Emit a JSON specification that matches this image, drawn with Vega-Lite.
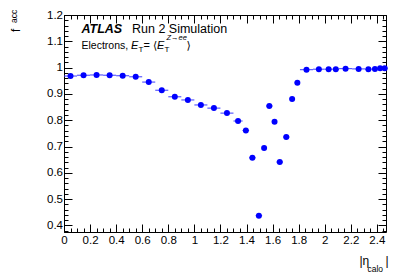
{
  "$schema": "https://vega.github.io/schema/vega-lite/v6.json",
  "width": 322,
  "height": 217,
  "autosize": {"type": "none"},
  "padding": {"left": 64, "top": 15, "right": 21, "bottom": 45},
  "background": "white",
  "config": {
    "view": {"stroke": null},
    "axis": {"labelFont": "Liberation Sans", "titleFont": "Liberation Sans", "grid": false, "labelColor": "black", "titleColor": "black", "domainColor": "black", "tickColor": "black", "domainWidth": 1, "tickWidth": 1, "labelFlush": false, "labelOverlap": false, "titleFontWeight": "normal", "titleFontSize": 12, "labelFontSize": 11.5},
    "text": {"font": "Liberation Sans", "color": "black", "align": "left", "baseline": "alphabetic"}
  },
  "datasets": {
    "eff": [
      {"eta": 0.05, "lo": 0.0, "hi": 0.1, "f": 0.968},
      {"eta": 0.15, "lo": 0.1, "hi": 0.2, "f": 0.971},
      {"eta": 0.25, "lo": 0.2, "hi": 0.3, "f": 0.972},
      {"eta": 0.35, "lo": 0.3, "hi": 0.4, "f": 0.971},
      {"eta": 0.45, "lo": 0.4, "hi": 0.5, "f": 0.969},
      {"eta": 0.55, "lo": 0.5, "hi": 0.6, "f": 0.965},
      {"eta": 0.65, "lo": 0.6, "hi": 0.7, "f": 0.945},
      {"eta": 0.75, "lo": 0.7, "hi": 0.8, "f": 0.914},
      {"eta": 0.85, "lo": 0.8, "hi": 0.9, "f": 0.889},
      {"eta": 0.95, "lo": 0.9, "hi": 1.0, "f": 0.877},
      {"eta": 1.05, "lo": 1.0, "hi": 1.1, "f": 0.858},
      {"eta": 1.15, "lo": 1.1, "hi": 1.2, "f": 0.846},
      {"eta": 1.25, "lo": 1.2, "hi": 1.3, "f": 0.827},
      {"eta": 1.335, "lo": 1.3, "hi": 1.37, "f": 0.797},
      {"eta": 1.395, "lo": 1.37, "hi": 1.42, "f": 0.761},
      {"eta": 1.445, "lo": 1.42, "hi": 1.47, "f": 0.657},
      {"eta": 1.495, "lo": 1.47, "hi": 1.52, "f": 0.437},
      {"eta": 1.535, "lo": 1.52, "hi": 1.55, "f": 0.694},
      {"eta": 1.575, "lo": 1.55, "hi": 1.6, "f": 0.854},
      {"eta": 1.615, "lo": 1.6, "hi": 1.63, "f": 0.794},
      {"eta": 1.655, "lo": 1.63, "hi": 1.68, "f": 0.641},
      {"eta": 1.705, "lo": 1.68, "hi": 1.73, "f": 0.736},
      {"eta": 1.75, "lo": 1.73, "hi": 1.77, "f": 0.881},
      {"eta": 1.79, "lo": 1.77, "hi": 1.81, "f": 0.942},
      {"eta": 1.86, "lo": 1.81, "hi": 1.91, "f": 0.992},
      {"eta": 1.955, "lo": 1.91, "hi": 2.0, "f": 0.994},
      {"eta": 2.03, "lo": 2.0, "hi": 2.06, "f": 0.994},
      {"eta": 2.085, "lo": 2.06, "hi": 2.11, "f": 0.994},
      {"eta": 2.16, "lo": 2.11, "hi": 2.21, "f": 0.996},
      {"eta": 2.26, "lo": 2.21, "hi": 2.31, "f": 0.995},
      {"eta": 2.335, "lo": 2.31, "hi": 2.36, "f": 0.994},
      {"eta": 2.385, "lo": 2.36, "hi": 2.41, "f": 0.995},
      {"eta": 2.425, "lo": 2.41, "hi": 2.44, "f": 0.998},
      {"eta": 2.46, "lo": 2.44, "hi": 2.47, "f": 0.998}
    ],
    "one": [{}]
  },
  "resolve": {"axis": {"x": "independent", "y": "independent"}},
  "layer": [
    {
      "data": {"name": "eff"},
      "mark": {"type": "rule", "color": "#3a3aff", "strokeWidth": 1},
      "encoding": {
        "x": {"field": "lo", "type": "quantitative", "scale": {"domain": [0, 2.47], "nice": false, "zero": false},
          "axis": {"orient": "bottom", "values": [0, 0.2, 0.4, 0.6, 0.8, 1, 1.2, 1.4, 1.6, 1.8, 2, 2.2, 2.4], "format": "~g", "tickSize": -8, "labelPadding": 10, "domain": true,
            "title": "|η", "titleX": 295, "titleY": 32, "titleAlign": "left", "titleBaseline": "alphabetic", "titleAngle": 0}},
        "x2": {"field": "hi"},
        "y": {"field": "f", "type": "quantitative", "scale": {"domain": [0.375, 1.2], "nice": false, "zero": false},
          "axis": {"orient": "left", "values": [0.4, 0.5, 0.6, 0.7, 0.8, 0.9, 1, 1.1, 1.2], "format": "~g", "tickSize": -8, "labelPadding": 9.5, "domain": true, "title": null}}
      }
    },
    {
      "data": {"name": "eff"},
      "mark": {"type": "point", "filled": true, "color": "#0000ff", "opacity": 1, "size": 36},
      "encoding": {
        "x": {"field": "eta", "type": "quantitative",
          "axis": {"orient": "bottom", "values": [0,0.05,0.1,0.15,0.2,0.25,0.3,0.35,0.4,0.45,0.5,0.55,0.6,0.65,0.7,0.75,0.8,0.85,0.9,0.95,1,1.05,1.1,1.15,1.2,1.25,1.3,1.35,1.4,1.45,1.5,1.55,1.6,1.65,1.7,1.75,1.8,1.85,1.9,1.95,2,2.05,2.1,2.15,2.2,2.25,2.3,2.35,2.4,2.45], "tickSize": -4, "labels": false, "domain": false,
            "title": "calo", "titleFontSize": 8.5, "titleX": 303, "titleY": 39, "titleAlign": "left", "titleBaseline": "alphabetic", "titleAngle": 0}},
        "y": {"field": "f", "type": "quantitative",
          "axis": {"orient": "left", "values": [0.38,0.4,0.42,0.44,0.46,0.48,0.5,0.52,0.54,0.56,0.58,0.6,0.62,0.64,0.66,0.68,0.7,0.72,0.74,0.76,0.78,0.8,0.82,0.84,0.86,0.88,0.9,0.92,0.94,0.96,0.98,1,1.02,1.04,1.06,1.08,1.1,1.12,1.14,1.16,1.18,1.2], "tickSize": -4, "labels": false, "domain": false, "title": null}}
      }
    },
    {
      "data": {"name": "eff"},
      "mark": {"type": "point", "opacity": 0},
      "encoding": {
        "x": {"field": "eta", "type": "quantitative",
          "axis": {"orient": "top", "values": [0, 0.2, 0.4, 0.6, 0.8, 1, 1.2, 1.4, 1.6, 1.8, 2, 2.2, 2.4], "tickSize": -8, "labels": false, "domain": true,
            "title": "|", "titleX": 321, "titleY": 249, "titleAlign": "left", "titleBaseline": "alphabetic", "titleAngle": 0}},
        "y": {"field": "f", "type": "quantitative",
          "axis": {"orient": "right", "values": [0.4, 0.5, 0.6, 0.7, 0.8, 0.9, 1, 1.1, 1.2], "tickSize": -8, "labels": false, "domain": true, "title": null}}
      }
    },
    {
      "data": {"name": "eff"},
      "mark": {"type": "point", "opacity": 0},
      "encoding": {
        "x": {"field": "eta", "type": "quantitative",
          "axis": {"orient": "top", "values": [0,0.05,0.1,0.15,0.2,0.25,0.3,0.35,0.4,0.45,0.5,0.55,0.6,0.65,0.7,0.75,0.8,0.85,0.9,0.95,1,1.05,1.1,1.15,1.2,1.25,1.3,1.35,1.4,1.45,1.5,1.55,1.6,1.65,1.7,1.75,1.8,1.85,1.9,1.95,2,2.05,2.1,2.15,2.2,2.25,2.3,2.35,2.4,2.45], "tickSize": -4, "labels": false, "domain": false, "title": null}},
        "y": {"field": "f", "type": "quantitative",
          "axis": {"orient": "right", "values": [0.38,0.4,0.42,0.44,0.46,0.48,0.5,0.52,0.54,0.56,0.58,0.6,0.62,0.64,0.66,0.68,0.7,0.72,0.74,0.76,0.78,0.8,0.82,0.84,0.86,0.88,0.9,0.92,0.94,0.96,0.98,1,1.02,1.04,1.06,1.08,1.1,1.12,1.14,1.16,1.18,1.2], "tickSize": -4, "labels": false, "domain": false, "title": null}}
      }
    },
    {
      "data": {"name": "one"},
      "mark": {"type": "text", "text": "f", "fontSize": 12, "angle": 270},
      "encoding": {"x": {"datum": -0.3375, "type": "quantitative", "axis": null}, "y": {"datum": 1.1354, "type": "quantitative", "axis": null}}
    },
    {
      "data": {"name": "one"},
      "mark": {"type": "text", "text": "acc", "fontSize": 8.5, "angle": 270},
      "encoding": {"x": {"datum": -0.3605, "type": "quantitative", "axis": null}, "y": {"datum": 1.1696, "type": "quantitative", "axis": null}}
    },
    {
      "data": {"name": "one"},
      "mark": {"type": "text", "text": "ATLAS", "fontSize": 12.5, "fontWeight": "bold", "fontStyle": "italic"},
      "encoding": {"x": {"datum": 0.134, "type": "quantitative", "axis": null}, "y": {"datum": 1.1325, "type": "quantitative", "axis": null}}
    },
    {
      "data": {"name": "one"},
      "mark": {"type": "text", "text": "Run 2 Simulation", "fontSize": 12.5},
      "encoding": {"x": {"datum": 0.5215, "type": "quantitative", "axis": null}, "y": {"datum": 1.1325, "type": "quantitative", "axis": null}}
    },
    {
      "data": {"name": "one"},
      "mark": {"type": "text", "text": "Electrons,", "fontSize": 10.5},
      "encoding": {"x": {"datum": 0.134, "type": "quantitative", "axis": null}, "y": {"datum": 1.0707, "type": "quantitative", "axis": null}}
    },
    {
      "data": {"name": "one"},
      "mark": {"type": "text", "text": "E", "fontSize": 11, "fontStyle": "italic"},
      "encoding": {"x": {"datum": 0.514, "type": "quantitative", "axis": null}, "y": {"datum": 1.0707, "type": "quantitative", "axis": null}}
    },
    {
      "data": {"name": "one"},
      "mark": {"type": "text", "text": "T", "fontSize": 8},
      "encoding": {"x": {"datum": 0.571, "type": "quantitative", "axis": null}, "y": {"datum": 1.0593, "type": "quantitative", "axis": null}}
    },
    {
      "data": {"name": "one"},
      "mark": {"type": "text", "text": "=", "fontSize": 11},
      "encoding": {"x": {"datum": 0.61, "type": "quantitative", "axis": null}, "y": {"datum": 1.0707, "type": "quantitative", "axis": null}}
    },
    {
      "data": {"name": "one"},
      "mark": {"type": "text", "text": "⟨", "fontSize": 11, "font": "DejaVu Sans"},
      "encoding": {"x": {"datum": 0.683, "type": "quantitative", "axis": null}, "y": {"datum": 1.0707, "type": "quantitative", "axis": null}}
    },
    {
      "data": {"name": "one"},
      "mark": {"type": "text", "text": "E", "fontSize": 11, "fontStyle": "italic"},
      "encoding": {"x": {"datum": 0.713, "type": "quantitative", "axis": null}, "y": {"datum": 1.0707, "type": "quantitative", "axis": null}}
    },
    {
      "data": {"name": "one"},
      "mark": {"type": "text", "text": "T", "fontSize": 8},
      "encoding": {"x": {"datum": 0.771, "type": "quantitative", "axis": null}, "y": {"datum": 1.0593, "type": "quantitative", "axis": null}}
    },
    {
      "data": {"name": "one"},
      "mark": {"type": "text", "text": "Z→ee", "fontSize": 7.5, "fontStyle": "italic"},
      "encoding": {"x": {"datum": 0.786, "type": "quantitative", "axis": null}, "y": {"datum": 1.1049, "type": "quantitative", "axis": null}}
    },
    {
      "data": {"name": "one"},
      "mark": {"type": "text", "text": "⟩", "fontSize": 11, "font": "DejaVu Sans"},
      "encoding": {"x": {"datum": 0.94, "type": "quantitative", "axis": null}, "y": {"datum": 1.0707, "type": "quantitative", "axis": null}}
    }
  ]
}
